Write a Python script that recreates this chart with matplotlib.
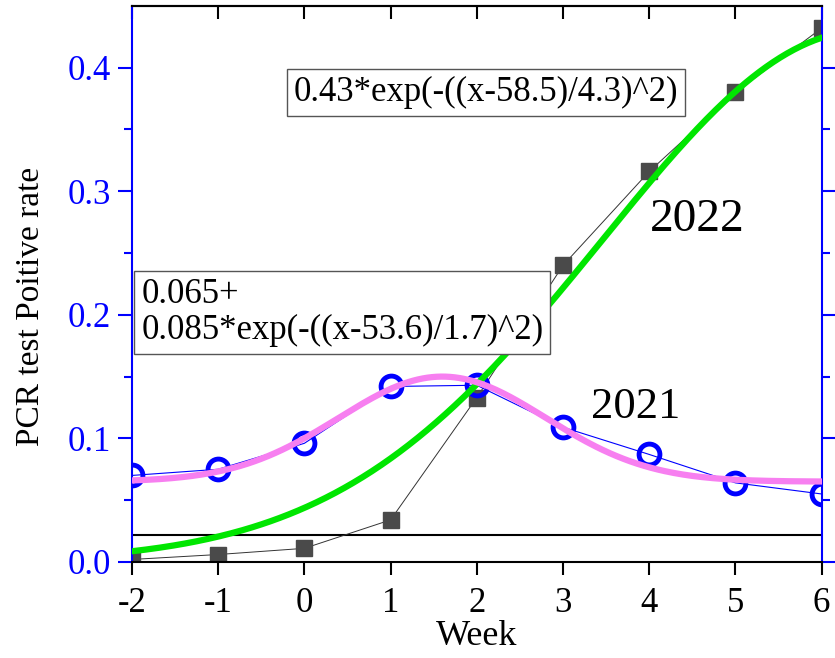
import numpy as np
import matplotlib
matplotlib.use('Agg')
import matplotlib.pyplot as plt

plt.rcParams['font.family'] = ['Liberation Serif', 'DejaVu Serif']
plt.rcParams['axes.unicode_minus'] = False

weeks = [-2, -1, 0, 1, 2, 3, 4, 5, 6]
rate_2022 = [0.002, 0.006, 0.011, 0.034, 0.133, 0.240, 0.316, 0.380, 0.432]
rate_2021 = [0.070, 0.075, 0.096, 0.142, 0.143, 0.109, 0.087, 0.064, 0.055]

# fit parameters (x = week + 52)
week_offset = 52
fit_2022 = dict(a=0.43, xc=58.5, w=4.3)
fit_2021 = dict(y0=0.065, a=0.085, xc=53.6, w=1.7)
baseline = 0.022

xs = np.linspace(-2, 6, 300)
g22 = fit_2022['a'] * np.exp(-((xs + week_offset - fit_2022['xc']) / fit_2022['w']) ** 2)
g21 = fit_2021['y0'] + fit_2021['a'] * np.exp(-((xs + week_offset - fit_2021['xc']) / fit_2021['w']) ** 2)

fig = plt.figure(figsize=(8.35, 6.58), dpi=100)
ax = fig.add_axes([0.158, 0.146, 0.826, 0.845])

ax.axhline(baseline, color='black', lw=1.5, zorder=1)
ax.plot(weeks, rate_2022, color='#333333', lw=0.7, marker='s', ms=11,
        mfc='#4a4a4a', mec='#4a4a4a', zorder=2)
ax.plot(weeks, rate_2021, color='blue', lw=0.8, marker='o', ms=15,
        mfc='none', mec='blue', mew=3.5, zorder=2)
ax.plot(xs, g22, color='#00e600', lw=4.5, zorder=3)
ax.plot(xs, g21, color='#f77ff0', lw=4.5, zorder=3)

ax.set_xlim(-2, 6)
ax.set_ylim(0, 0.45)
ax.set_xticks(weeks)
ax.set_yticks([0.0, 0.1, 0.2, 0.3, 0.4])
ax.set_yticks(np.arange(0.05, 0.45, 0.1), minor=True)

ax.tick_params(axis='x', which='major', direction='out', length=9, width=1.5,
               labelsize=25, pad=9)
ax.tick_params(axis='y', which='major', direction='out', length=10, width=1.5,
               labelsize=25, colors='blue', right=True, pad=5)
ax.tick_params(axis='y', which='minor', direction='out', length=6, width=1.5,
               colors='blue', right=True)

# top ticks point inward
top = ax.secondary_xaxis('top')
top.set_xticks(weeks)
top.tick_params(direction='in', length=9, width=1.5, labeltop=False)
top.spines['top'].set_linewidth(1.5)

for side in ['left', 'right']:
    ax.spines[side].set_color('blue')
    ax.spines[side].set_linewidth(1.5)
for side in ['top', 'bottom']:
    ax.spines[side].set_color('black')
    ax.spines[side].set_linewidth(1.5)

ax.set_xlabel('Week', fontsize=26, labelpad=0)
ax.set_ylabel('PCR test Poitive rate', fontsize=24)
ax.yaxis.set_label_coords(-0.125, 0.46)

box = dict(boxstyle='square,pad=0.2', fc='white', ec='#555555', lw=1)
ax.text(-0.12, 0.38, '0.43*exp(-((x-58.5)/4.3)^2)', fontsize=25, va='center', ha='left',
        bbox=box)
ax.text(-1.89, 0.202, '0.065+\n0.085*exp(-((x-53.6)/1.7)^2)', fontsize=25, va='center',
        ha='left', linespacing=1.1, bbox=box)
ax.text(4.56, 0.277, '2022', fontsize=34, ha='center', va='center')
ax.text(3.84, 0.125, '2021', fontsize=32, ha='center', va='center')

fig.savefig('out.png', dpi=100)
